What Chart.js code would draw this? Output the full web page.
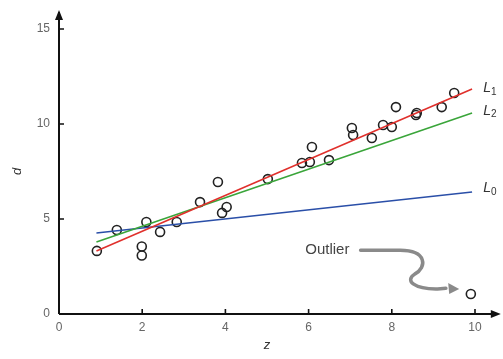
<!DOCTYPE html>
<html>
<head>
<meta charset="utf-8">
<script src="https://cdn.jsdelivr.net/npm/chart.js@4/dist/chart.umd.min.js"></script>
<style>
  html, body { margin: 0; padding: 0; background: #fff; }
  #wrap { width: 503px; height: 359px; }
</style>
</head>
<body>
<div id="wrap"><canvas id="c" width="503" height="359"></canvas></div>
<script>
// Observations: distance z against d
const zVals = [0.91, 1.39, 1.99, 1.99, 2.10, 2.43, 2.83, 3.39, 3.82, 3.92, 4.03, 5.02,
               5.84, 6.03, 6.08, 6.49, 7.04, 7.07, 7.52, 7.79, 8.00, 8.10, 8.58, 8.60, 9.20, 9.50];
const dVals = [3.32, 4.42, 3.55, 3.08, 4.84, 4.32, 4.84, 5.89, 6.95, 5.32, 5.63, 7.10,
               7.95, 8.00, 8.79, 8.10, 9.79, 9.42, 9.26, 9.95, 9.84, 10.89, 10.47, 10.58, 10.89, 11.63];

// The outlying observation
const outlierZ = [9.90];
const outlierD = [1.05];

// Fitted lines (end points in data units)
const lineZ  = [0.90, 9.93];
const lineL1 = [3.32, 11.84];
const lineL2 = [3.79, 10.58];
const lineL0 = [4.26, 6.42];

const lineNames  = ['L1', 'L2', 'L0'];
const lineColors = ['#e0302c', '#3aa53a', '#2a4fa8'];

// Axis ticks
const xTicks = [0, 2, 4, 6, 8, 10];
const yTicks = [0, 5, 10, 15];

const toXY = (xs, ys) => xs.map((x, i) => ({ x: x, y: ys[i] }));

const circleStyle = {
  type: 'scatter',
  pointStyle: 'circle',
  pointRadius: 4.5,
  pointBorderWidth: 1.6,
  pointBorderColor: '#222',
  pointBackgroundColor: 'rgba(0,0,0,0)',
  showLine: false,
  clip: false
};

const fitLine = (ys, color) => ({
  type: 'line',
  data: toXY(lineZ, ys),
  borderColor: color,
  borderWidth: 1.6,
  pointRadius: 0,
  fill: false,
  clip: false
});

// Axes with arrowheads, inward tick marks, line labels and the outlier callout
const decorations = {
  id: 'decorations',
  afterDatasetsDraw(chart) {
    const { ctx, scales: { x, y } } = chart;
    const x0 = x.getPixelForValue(0);
    const y0 = y.getPixelForValue(0);
    ctx.save();

    // axis lines
    ctx.strokeStyle = '#111';
    ctx.fillStyle = '#111';
    ctx.lineWidth = 2;
    ctx.beginPath();
    ctx.moveTo(x0, y0);
    ctx.lineTo(x.getPixelForValue(10.45), y0);
    ctx.moveTo(x0, y0);
    ctx.lineTo(x0, y.getPixelForValue(15.9));
    ctx.stroke();

    // arrowheads
    const xe = x.getPixelForValue(10.62);
    ctx.beginPath();
    ctx.moveTo(xe, y0);
    ctx.lineTo(xe - 10, y0 - 4);
    ctx.lineTo(xe - 10, y0 + 4);
    ctx.closePath();
    ctx.fill();
    const ye = y.getPixelForValue(16.0);
    ctx.beginPath();
    ctx.moveTo(x0, ye);
    ctx.lineTo(x0 - 4, ye + 10);
    ctx.lineTo(x0 + 4, ye + 10);
    ctx.closePath();
    ctx.fill();

    // inward tick marks
    ctx.lineWidth = 1.6;
    ctx.beginPath();
    xTicks.slice(1).forEach(v => {
      const px = x.getPixelForValue(v);
      ctx.moveTo(px, y0);
      ctx.lineTo(px, y0 - 5);
    });
    yTicks.slice(1).forEach(v => {
      const py = y.getPixelForValue(v);
      ctx.moveTo(x0, py);
      ctx.lineTo(x0 + 5, py);
    });
    ctx.stroke();

    // line labels with subscripts
    const labelY = [11.9, 10.7, 6.6];
    ctx.fillStyle = '#333';
    ctx.textBaseline = 'middle';
    ctx.textAlign = 'left';
    lineNames.forEach((name, i) => {
      const lx = x.getPixelForValue(10.2);
      const ly = y.getPixelForValue(labelY[i]);
      ctx.font = 'italic 14px "Liberation Sans", Arial, sans-serif';
      ctx.fillText(name[0], lx, ly);
      const w = ctx.measureText(name[0]).width;
      ctx.font = '10px "Liberation Sans", Arial, sans-serif';
      ctx.fillText(name.slice(1), lx + w, ly + 4);
    });

    // outlier callout
    ctx.font = '15px "Liberation Sans", Arial, sans-serif';
    ctx.fillStyle = '#444';
    ctx.textAlign = 'left';
    ctx.fillText('Outlier', x.getPixelForValue(5.92), y.getPixelForValue(3.4));

    const P = (zx, dy) => [x.getPixelForValue(zx), y.getPixelForValue(dy)];
    ctx.strokeStyle = '#8a8a8a';
    ctx.fillStyle = '#8a8a8a';
    ctx.lineWidth = 3.5;
    ctx.lineCap = 'round';
    ctx.beginPath();
    let p = P(7.25, 3.35); ctx.moveTo(p[0], p[1]);
    p = P(8.2, 3.35); ctx.lineTo(p[0], p[1]);
    let c1 = P(8.85, 3.35), c2 = P(8.85, 2.45); p = P(8.55, 2.1);
    ctx.bezierCurveTo(c1[0], c1[1], c2[0], c2[1], p[0], p[1]);
    c1 = P(8.3, 1.75); c2 = P(8.55, 1.3); p = P(9.1, 1.32);
    ctx.bezierCurveTo(c1[0], c1[1], c2[0], c2[1], p[0], p[1]);
    p = P(9.3, 1.35); ctx.lineTo(p[0], p[1]);
    ctx.stroke();
    // arrow tip
    const tip = P(9.62, 1.32);
    ctx.beginPath();
    ctx.moveTo(tip[0], tip[1]);
    ctx.lineTo(tip[0] - 11, tip[1] - 6);
    ctx.lineTo(tip[0] - 10, tip[1] + 5);
    ctx.closePath();
    ctx.fill();

    ctx.restore();
  }
};

const tickFont = { family: '"Liberation Sans", Arial, sans-serif', size: 12 };
const titleFont = { family: '"Liberation Sans", Arial, sans-serif', size: 13, style: 'italic' };

new Chart(document.getElementById('c'), {
  data: {
    datasets: [
      fitLine(lineL1, lineColors[0]),
      fitLine(lineL2, lineColors[1]),
      fitLine(lineL0, lineColors[2]),
      Object.assign({ data: toXY(zVals, dVals) }, circleStyle),
      Object.assign({ data: toXY(outlierZ, outlierD) }, circleStyle)
    ]
  },
  options: {
    responsive: false,
    animation: false,
    devicePixelRatio: 1,
    layout: { padding: { left: 0, right: 28, top: 29, bottom: 0 } },
    plugins: { legend: { display: false }, tooltip: { enabled: false } },
    scales: {
      x: {
        type: 'linear',
        min: 0, max: 10,
        grid: { display: false, drawTicks: false },
        border: { display: false },
        afterBuildTicks: s => { s.ticks = xTicks.map(v => ({ value: v })); },
        afterFit: s => { s.height = 45; },
        ticks: { color: '#666', font: tickFont, padding: 6, maxRotation: 0 },
        title: { display: true, text: 'z', color: '#333', font: titleFont, padding: { top: 0, bottom: 6 } }
      },
      y: {
        type: 'linear',
        min: 0, max: 15,
        grid: { display: false, drawTicks: false },
        border: { display: false },
        afterBuildTicks: s => { s.ticks = yTicks.map(v => ({ value: v })); },
        afterFit: s => { s.width = 59; },
        ticks: { color: '#666', font: tickFont, padding: 9 },
        title: { display: true, text: 'd', color: '#333', font: titleFont, padding: { top: 10, bottom: 0 } }
      }
    }
  },
  plugins: [decorations]
});
</script>
</body>
</html>
